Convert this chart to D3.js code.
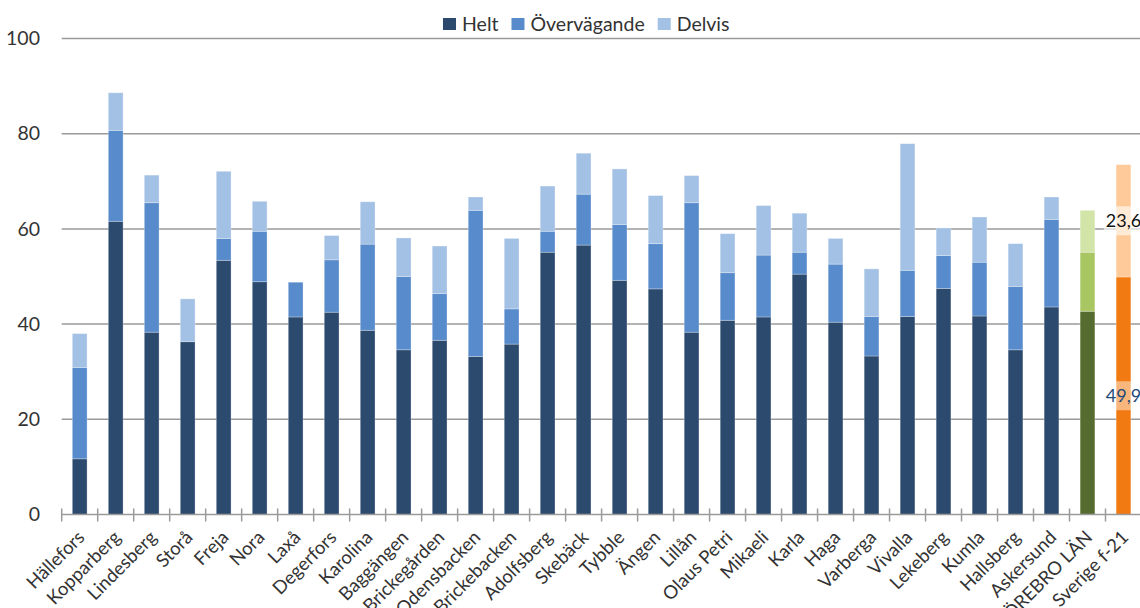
<!DOCTYPE html>
<html>
<head>
<meta charset="utf-8">
<script src="https://cdn.jsdelivr.net/npm/d3@7"></script>
<style>
  html, body { margin: 0; padding: 0; background: #fff; }
  svg { display: block; font-family: Lato, "Open Sans", sans-serif; }
</style>
</head>
<body>
<svg id="chart" width="1140" height="608"></svg>
<script>
// Categories (schools / municipalities, then county and national reference)
const categories = ["Hällefors", "Kopparberg", "Lindesberg", "Storå", "Freja", "Nora", "Laxå",
  "Degerfors", "Karolina", "Baggängen", "Brickegården", "Odensbacken", "Brickebacken",
  "Adolfsberg", "Skebäck", "Tybble", "Ängen", "Lillån", "Olaus Petri", "Mikaeli", "Karla",
  "Haga", "Varberga", "Vivalla", "Lekeberg", "Kumla", "Hallsberg", "Askersund",
  "ÖREBRO LÄN", "Sverige f-21"];

const seriesNames = ["Helt", "Övervägande", "Delvis"];

const helt = [11.7, 61.6, 38.3, 36.3, 53.4, 48.9, 41.5, 42.5, 38.7, 34.6, 36.6, 33.2, 35.8,
  55.1, 56.6, 49.2, 47.4, 38.3, 40.8, 41.5, 50.5, 40.4, 33.3, 41.6, 47.5, 41.7, 34.6, 43.6,
  42.7, 49.9];
const overvagande = [19.2, 19.1, 27.2, 0, 4.6, 10.6, 7.3, 11.0, 18.1, 15.4, 9.8, 30.7, 7.4,
  4.4, 10.7, 11.7, 9.5, 27.2, 10.0, 13.0, 4.6, 12.2, 8.3, 9.7, 6.9, 11.3, 13.3, 18.4,
  12.4, 0];
const delvis = [7.1, 7.9, 5.8, 9.0, 14.1, 6.3, 0, 5.1, 8.9, 8.1, 10.0, 2.8, 14.8, 9.5, 8.6,
  11.7, 10.1, 5.7, 8.2, 10.4, 8.2, 5.4, 10.0, 26.6, 5.8, 9.5, 9.0, 4.7, 8.8, 23.6];

const yTicks = [0, 20, 40, 60, 80, 100];

// Categories whose values are printed on the bar
const labelledCategories = ["Sverige f-21"];

// Palettes
const bluePalette = ["#2C4A6E", "#588BCB", "#A3C1E5"];
const greenPalette = ["#566B2F", "#A8C661", "#D3E4A9"];
const orangePalette = ["#F27A12", "#F27A12", "#FFCA99"];
function paletteFor(cat) {
  if (cat === "ÖREBRO LÄN") return greenPalette;
  if (cat === "Sverige f-21") return orangePalette;
  return bluePalette;
}

const svg = d3.select("#chart");
const plotLeft = 61.7, plotRight = 1141.5, plotTop = 38.5, plotBottom = 514.5;

const x = d3.scaleBand().domain(categories).range([plotLeft, plotRight]).paddingInner(0.59).paddingOuter(0.295);
const y = d3.scaleLinear().domain([0, 100]).range([plotBottom, plotTop]);

// Gridlines
svg.append("g").selectAll("line")
  .data(yTicks.filter(d => d > 0))
  .join("line")
  .attr("x1", plotLeft).attr("x2", 1140)
  .attr("y1", d => y(d)).attr("y2", d => y(d))
  .attr("stroke", "#9A9A9A").attr("stroke-width", 1.5);

// Y axis labels
const yAxis = d3.axisLeft(y).tickValues(yTicks).tickSize(0).tickPadding(0);
const gy = svg.append("g").attr("transform", `translate(40,0)`).call(yAxis);
gy.select(".domain").remove();
gy.selectAll("text").attr("font-size", 19.5).attr("fill", "#333").attr("font-family", "Lato, sans-serif");

// Stacked bars
const table = categories.map((c, i) => ({ cat: c, Helt: helt[i], "Övervägande": overvagande[i], Delvis: delvis[i] }));
const stacked = d3.stack().keys(seriesNames)(table);

const barG = svg.append("g");
stacked.forEach((layer, li) => {
  barG.append("g").selectAll("rect")
    .data(layer)
    .join("rect")
    .attr("x", d => x(d.data.cat))
    .attr("width", x.bandwidth())
    .attr("y", d => y(d[1]))
    .attr("height", d => Math.max(0, y(d[0]) - y(d[1])))
    .attr("fill", d => paletteFor(d.data.cat)[li])
    .attr("stroke", "rgba(255,255,255,0.35)")
    .attr("stroke-width", 0.8);
});

// X axis (line with crossing tick marks at band boundaries)
const axisG = svg.append("g");
axisG.append("line")
  .attr("x1", plotLeft).attr("x2", 1140)
  .attr("y1", plotBottom).attr("y2", plotBottom)
  .attr("stroke", "#9A9A9A").attr("stroke-width", 1.5);
const step = x.step();
const boundaries = d3.range(categories.length + 1).map(i => plotLeft + i * step);
axisG.selectAll("line.tick")
  .data(boundaries)
  .join("line")
  .attr("class", "tick")
  .attr("x1", d => d).attr("x2", d => d)
  .attr("y1", plotBottom - 6).attr("y2", plotBottom + 7)
  .attr("stroke", "#9A9A9A").attr("stroke-width", 1.5);

// Category labels, rotated
svg.append("g").selectAll("text")
  .data(categories)
  .join("text")
  .attr("transform", d => `translate(${x(d) + x.bandwidth() / 2 + 6},${plotBottom + 24}) rotate(-45)`)
  .attr("text-anchor", "end")
  .attr("font-size", 18.5)
  .attr("fill", "#333")
  .text(d => d);

// Value labels for the national reference bar
const fmt = v => d3.format(".1f")(v).replace(".", ",");
const labelData = [];
stacked.forEach((layer, li) => {
  layer.forEach(d => {
    if (labelledCategories.includes(d.data.cat) && d[1] - d[0] > 0) {
      labelData.push({ cat: d.data.cat, li, v: d[1] - d[0], mid: (d[0] + d[1]) / 2 });
    }
  });
});
const lblG = svg.append("g");
labelData.forEach(l => {
  const cx = x(l.cat) + x.bandwidth() / 2;
  const g = lblG.append("g");
  const t = g.append("text")
    .attr("x", cx).attr("y", y(l.mid))
    .attr("dy", "0.35em")
    .attr("text-anchor", "middle")
    .attr("font-size", 18)
    .attr("fill", l.li === 0 ? "#1F4A7C" : "#111")
    .text(fmt(l.v));
  const bb = t.node().getBBox();
  g.insert("rect", "text")
    .attr("x", bb.x - 2).attr("y", y(l.mid) - 14.5)
    .attr("width", bb.width + 4).attr("height", 29)
    .attr("fill", "#fff").attr("fill-opacity", l.li === 0 ? 0.45 : 0.6);
});

// Legend
const legend = svg.append("g").attr("transform", "translate(443,18)");
let lx = 0;
seriesNames.forEach((name, i) => {
  const item = legend.append("g").attr("transform", `translate(${lx},0)`);
  item.append("rect").attr("width", 13).attr("height", 12).attr("fill", bluePalette[i]);
  const t = item.append("text").attr("x", 19).attr("y", 12.5)
    .attr("font-size", 19.5).attr("fill", "#333").text(name);
  lx += 19 + t.node().getComputedTextLength() + 13;
});
</script>
</body>
</html>
